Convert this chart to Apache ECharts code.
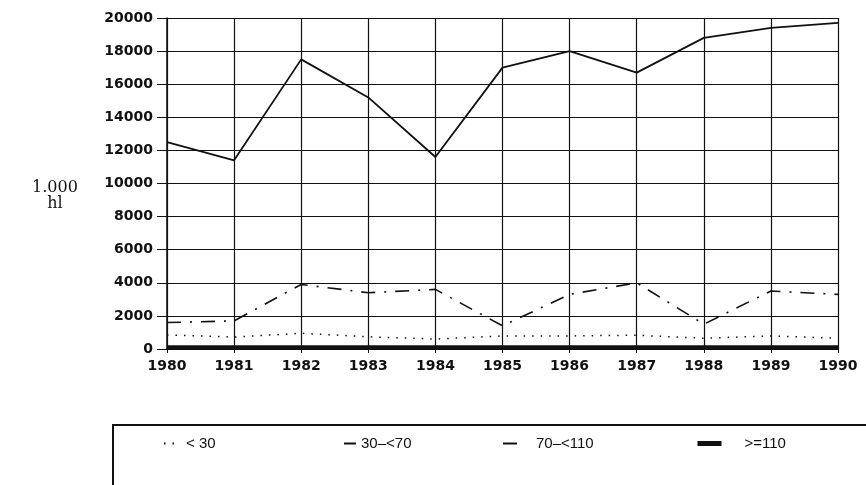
<!DOCTYPE html>
<html>
<head>
<meta charset="utf-8">
<script src="https://cdn.jsdelivr.net/npm/echarts@6/dist/echarts.min.js"></script>
<style>
  html, body { margin: 0; padding: 0; background: #fff; }
  #chart { width: 866px; height: 485px; }
</style>
</head>
<body>
<div id="chart"></div>
<script>
// Years on the horizontal axis
const years = ['1980', '1981', '1982', '1983', '1984', '1985', '1986', '1987', '1988', '1989', '1990'];

// Volume per size class, in 1.000 hl
const under30   = [850, 720, 950, 740, 600, 790, 790, 830, 650, 790, 650];
const from30to70  = [12500, 11400, 17500, 15200, 11600, 17000, 18000, 16700, 18800, 19400, 19700];
const from70to110 = [1600, 1700, 3900, 3400, 3600, 1400, 3300, 4000, 1500, 3500, 3300];
const over110   = [100, 100, 100, 100, 100, 100, 100, 100, 100, 100, 100];

// Legend names
const names = ['< 30', '30\u2013<70', '70\u2013<110', '>=110'];

const axisFont = { fontFamily: 'DejaVu Sans', fontWeight: 'bold', fontSize: 14, color: '#111' };
const ink = '#111';

function lineSeries(name, data, lineStyle) {
  return {
    name: name,
    type: 'line',
    data: data,
    symbol: 'none',
    lineStyle: Object.assign({ color: ink }, lineStyle),
    itemStyle: { color: ink },
    animation: false,
    z: 3
  };
}

function legendAt(name, left, iconWidth, textPad, lineStyle) {
  const legend = {
    data: [name],
    left: left,
    top: 431,
    itemWidth: iconWidth,
    itemHeight: 10,
    itemGap: 0,
    itemStyle: { opacity: 0 },
    textStyle: { fontFamily: 'Liberation Sans', fontSize: 15, color: ink, padding: [0, 0, 0, textPad] },
    selectedMode: false
  };
  if (lineStyle) legend.lineStyle = lineStyle;
  return legend;
}

const chart = echarts.init(document.getElementById('chart'), null, { renderer: 'canvas' });
chart.setOption({
  backgroundColor: '#fff',
  animation: false,
  grid: { left: 167, right: 28, top: 18, bottom: 136 },
  xAxis: {
    type: 'category',
    data: years,
    boundaryGap: false,
    axisLine: { lineStyle: { color: ink, width: 2 } },
    axisTick: { show: true, length: 4, lineStyle: { color: ink } },
    axisLabel: Object.assign({ margin: 10 }, axisFont),
    splitLine: { show: true, lineStyle: { color: ink, width: 1.2 } }
  },
  yAxis: {
    type: 'value',
    min: 0,
    max: 20000,
    interval: 2000,
    axisLine: { show: true, lineStyle: { color: ink, width: 1.5 } },
    axisTick: { show: true, length: 10, lineStyle: { color: ink } },
    axisLabel: Object.assign({ margin: 14, formatter: v => String(v) }, axisFont),
    splitLine: { show: true, lineStyle: { color: ink, width: 1.2 } }
  },
  legend: [
    legendAt(names[0], 158, 14, 3),
    legendAt(names[1], 338, 12, 0),
    legendAt(names[2], 497, 16, 12),
    legendAt(names[3], 690, 24, 18, { width: 5 })
  ],
  graphic: [
    {
      type: 'text',
      x: 55,
      y: 180,
      style: {
        text: '1.000\nhl',
        font: '16px "DejaVu Serif"',
        fill: ink,
        align: 'center',
        verticalAlign: 'top',
        lineHeight: 16
      }
    },
    {
      type: 'rect',
      shape: { x: 113, y: 425, width: 780, height: 100 },
      style: { fill: 'none', stroke: ink, lineWidth: 2 },
      silent: true
    }
  ],
  series: [
    lineSeries(names[0], under30, { width: 1.5, type: [1.5, 7] }),
    lineSeries(names[1], from30to70, { width: 1.8, type: 'solid' }),
    lineSeries(names[2], from70to110, { width: 1.6, type: [14, 9, 2, 9] }),
    lineSeries(names[3], over110, { width: 4, type: 'solid' })
  ]
});
</script>
</body>
</html>
